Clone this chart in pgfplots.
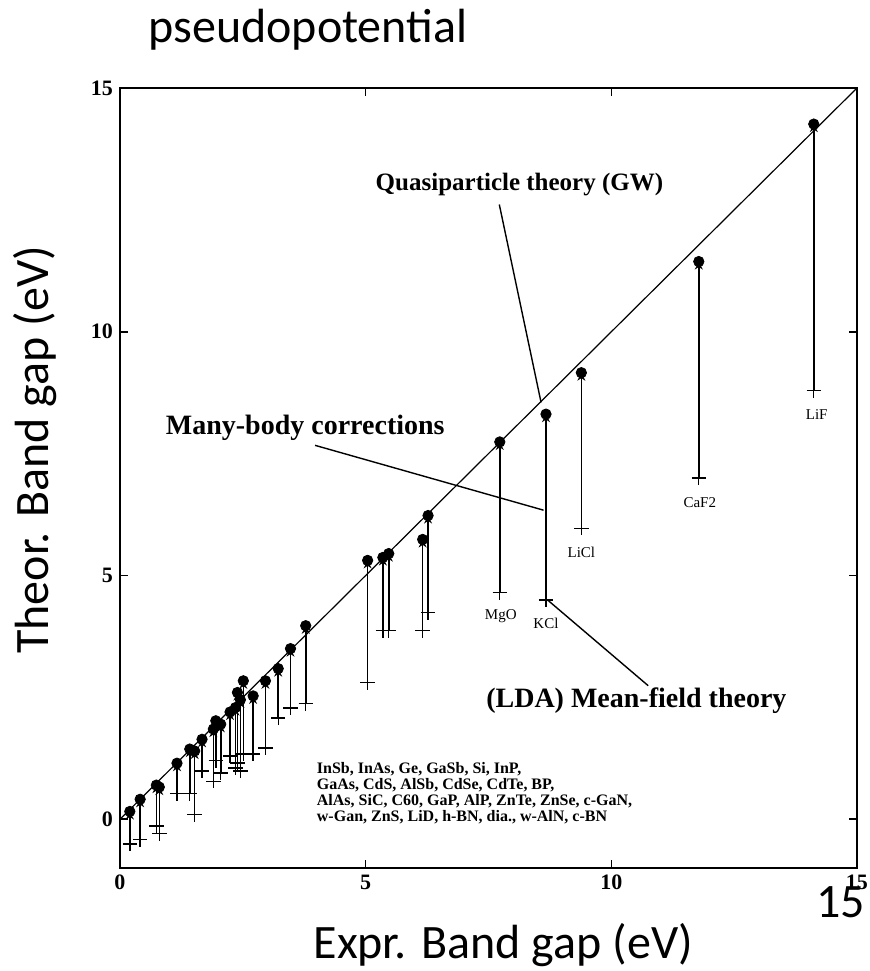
\documentclass[border=0pt]{standalone}
\usepackage{pgfplots}
\pgfplotsset{compat=1.18}
\usepackage{pgfplotstable}
\usepackage{fontspec}
\setmainfont{Liberation Serif}
\newfontfamily\calibri{Carlito}
\usetikzlibrary{arrows.meta}

% x = experimental gap, gw = quasiparticle (GW) gap, lda = LDA gap
\pgfplotstableread{
x    gw    lda
0.20 0.16 -0.51
0.41 0.41 -0.42
0.74 0.70 -0.14
0.80 0.66 -0.29
1.16 1.15 0.53
1.42 1.44 0.53
1.52 1.40 0.10
1.67 1.64 0.99
1.90 1.85 0.78
1.95 2.02 1.20
2.05 1.95 0.95
2.24 2.20 1.30
2.35 2.29 1.05
2.39 2.60 1.15
2.45 2.45 0.99
2.51 2.84 1.34
2.71 2.53 1.34
2.96 2.84 1.46
3.22 3.09 2.08
3.47 3.50 2.28
3.78 3.97 2.37
5.04 5.31 2.80
5.35 5.37 3.87
5.47 5.45 3.87
6.16 5.74 3.87
6.27 6.23 4.24
7.73 7.74 4.65
8.67 8.31 4.50
9.39 9.16 5.97
11.78 11.44 7.00
14.12 14.26 8.79
}\gapdata

\begin{document}
\begin{tikzpicture}
\useasboundingbox (-60pt,-51.5pt) rectangle (375pt,434pt);
\node[font=\calibri\fontsize{24}{28}\selectfont] at (94pt,419pt) {pseudopotential};
\node[font=\calibri\fontsize{24}{28}\selectfont, anchor=east] at (376pt,-17pt) {15};
\begin{axis}[
  at={(0,0)}, anchor=south west,
  scale only axis, width=368.5pt, height=390pt,
  xmin=0, xmax=15, ymin=-1, ymax=15,
  xtick={0,5,10,15}, ytick={0,5,10,15},
  tick align=inside, major tick length=4pt,
  axis line style={line width=1.2pt},
  every tick/.style={black, line width=0.8pt},
  tick label style={font=\fontsize{11}{12}\selectfont\bfseries},
  /pgf/number format/assume math mode=true,
  clip=false,
  xlabel={Expr. Band gap (eV)},
  ylabel={Theor. Band gap (eV)},
  xlabel style={at={(axis description cs:0.52,-0.099)}, anchor=center, font=\calibri\fontsize{24}{28}\selectfont},
  ylabel style={at={(axis description cs:-0.115,0.536)}, anchor=center, font=\calibri\fontsize{24}{28}\selectfont},
]
% diagonal
\addplot[black, line width=0.6pt] coordinates {(0,0) (15,15)};
% arrows LDA -> GW
\addplot[black, line width=0.8pt, -{Stealth[length=4pt,width=4pt]},
  quiver={u=0, v=\thisrow{gw}-\thisrow{lda}}] table[x=x, y=lda] {\gapdata};
% LDA values
\addplot[black, only marks, mark=+, mark size=3.6pt, mark options={line width=0.7pt}] table[x=x, y=lda] {\gapdata};
% GW values
\addplot[black, only marks, mark=*, mark size=2.6pt] table[x=x, y=gw] {\gapdata};

% annotations
\node[font=\fontsize{12.5}{14}\selectfont\bfseries] at (axis cs:8.13,13.02) {Quasiparticle theory (GW)};
\draw[line width=0.7pt] (axis cs:7.72,12.61) -- (axis cs:8.57,8.55);
\node[font=\fontsize{14}{16}\selectfont\bfseries] at (axis cs:3.77,8.02) {Many-body corrections};
\draw[line width=0.7pt] (axis cs:3.97,7.67) -- (axis cs:8.62,6.34);
\node[font=\fontsize{14}{16}\selectfont\bfseries] at (axis cs:10.51,2.44) {(LDA) Mean-field theory};
\draw[line width=0.7pt] (axis cs:8.70,4.50) -- (axis cs:10.75,2.74);

\node[font=\fontsize{7.5}{8}\selectfont] at (axis cs:7.75,4.16) {MgO};
\node[font=\fontsize{7.5}{8}\selectfont] at (axis cs:8.67,4.01) {KCl};
\node[font=\fontsize{7.5}{8}\selectfont] at (axis cs:9.39,5.48) {LiCl};
\node[font=\fontsize{7.5}{8}\selectfont] at (axis cs:11.8,6.49) {CaF2};
\node[font=\fontsize{7.5}{8}\selectfont] at (axis cs:14.18,8.30) {LiF};

\node[font=\fontsize{8}{8}\selectfont\bfseries, anchor=north west, align=left, inner sep=0pt] at (axis cs:4.0,1.17)
 {InSb, InAs, Ge, GaSb, Si, InP,\\GaAs, CdS, AlSb, CdSe, CdTe, BP,\\AlAs, SiC, C60, GaP, AlP, ZnTe, ZnSe, c-GaN,\\w-Gan, ZnS, LiD, h-BN, dia., w-AlN, c-BN};
\end{axis}
\end{tikzpicture}
\end{document}
